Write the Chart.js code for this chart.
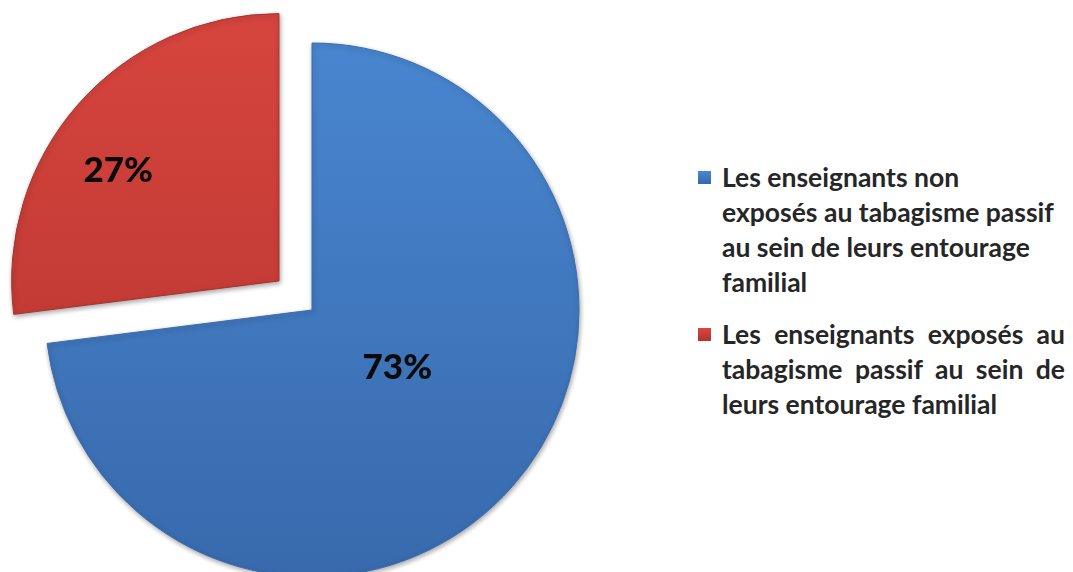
<!DOCTYPE html>
<html>
<head>
<meta charset="utf-8">
<script src="https://cdn.jsdelivr.net/npm/chart.js@4/dist/chart.umd.min.js"></script>
<style>
  html, body { margin: 0; padding: 0; background: #fff; overflow: hidden; }
  body { width: 1073px; height: 572px; position: relative; }
  #pieBox { position: absolute; left: 0; top: 0; width: 624px; height: 620px; }
  #legend { position: absolute; left: 698px; top: 160px; font-family: Lato, "Open Sans", sans-serif;
            font-weight: 700; font-size: 26.5px; line-height: 35px; color: #262626; }
  .item { position: relative; padding-left: 24px; margin-bottom: 17px; width: 343px; }
  .item .box { position: absolute; left: 0; top: 11px; width: 13px; height: 13px; }
  .item .line { white-space: nowrap; }
  .item.just .line { text-align: justify; text-align-last: justify; }
  .item.just .line:last-child { text-align-last: left; }
</style>
</head>
<body>
<div id="pieBox"><canvas id="pie"></canvas></div>
<div id="legend"></div>
<script>
// données du graphique
var categories = [
    ['Les enseignants non', 'exposés au tabagisme passif', 'au sein de leurs entourage', 'familial'],
    ['Les enseignants  exposés  au', 'tabagisme passif au sein de', 'leurs entourage familial']
];
var values = [73, 27];          // pourcentages
var valueLabels = ['73%', '27%'];
var colorsTop = ['#4a88d2', '#d9463f'];
var colorsBottom = ['#3768ab', '#b3332e'];
var offsets = [0, 176];         // la part rouge est détachée

// dégradé vertical pour chaque part
function sliceColor(context) {
    var i = context.dataIndex;
    var chart = context.chart;
    if (!chart.chartArea) return colorsTop[i];
    var g = chart.ctx.createLinearGradient(0, 0, 0, 600);
    g.addColorStop(0, colorsTop[i]);
    g.addColorStop(1, colorsBottom[i]);
    return g;
}

// étiquettes de pourcentage sur les parts
var pctLabels = {
    id: 'pctLabels',
    beforeDatasetsDraw: function(chart) {
        var ctx = chart.ctx;
        ctx.save();
        ctx.shadowColor = 'rgba(0,0,0,0.35)';
        ctx.shadowBlur = 5;
        ctx.shadowOffsetX = 1;
        ctx.shadowOffsetY = 2;
    },
    afterDatasetsDraw: function(chart, args, opts) {
        var ctx = chart.ctx;
        ctx.restore();
        var meta = chart.getDatasetMeta(0);
        ctx.save();
        ctx.font = '900 35px Lato, "Open Sans", sans-serif';
        ctx.fillStyle = '#0a0a0a';
        ctx.textAlign = 'center';
        ctx.textBaseline = 'middle';
        meta.data.forEach(function(el, i) {
            var mid = (el.startAngle + el.endAngle) / 2;
            var shift = (offsets[i] || 0) / 4;
            var cx = el.x + Math.cos(mid) * shift;
            var cy = el.y + Math.sin(mid) * shift;
            var p = opts.pos[i];
            var a = mid + p.a * Math.PI / 180;
            ctx.fillText(valueLabels[i], cx + Math.cos(a) * el.outerRadius * p.r, cy + Math.sin(a) * el.outerRadius * p.r);
        });
        ctx.restore();
    }
};

new Chart(document.getElementById('pie'), {
    type: 'pie',
    data: {
        labels: categories,
        datasets: [{
            data: values,
            backgroundColor: sliceColor,
            borderColor: ['#3a6cae', '#a8322d'],
            borderWidth: 1,
            offset: offsets,
            radius: 267
        }]
    },
    options: {
        responsive: true,
        maintainAspectRatio: false,
        animation: false,
        events: [],
        layout: { padding: 0 },
        plugins: {
            legend: { display: false },
            tooltip: { enabled: false },
            pctLabels: { pos: [{ r: 0.385, a: -7.5 }, { r: 0.73, a: -7 }] }
        }
    },
    plugins: [pctLabels]
});

// légende à droite
var legend = document.getElementById('legend');
categories.forEach(function(lines, i) {
    var item = document.createElement('div');
    item.className = 'item' + (i === 1 ? ' just' : '');
    var box = document.createElement('div');
    box.className = 'box';
    box.style.background = 'linear-gradient(' + colorsTop[i] + ',' + colorsBottom[i] + ')';
    item.appendChild(box);
    lines.forEach(function(t) {
        var d = document.createElement('div');
        d.className = 'line';
        d.textContent = t;
        item.appendChild(d);
    });
    legend.appendChild(item);
});
</script>
</body>
</html>
